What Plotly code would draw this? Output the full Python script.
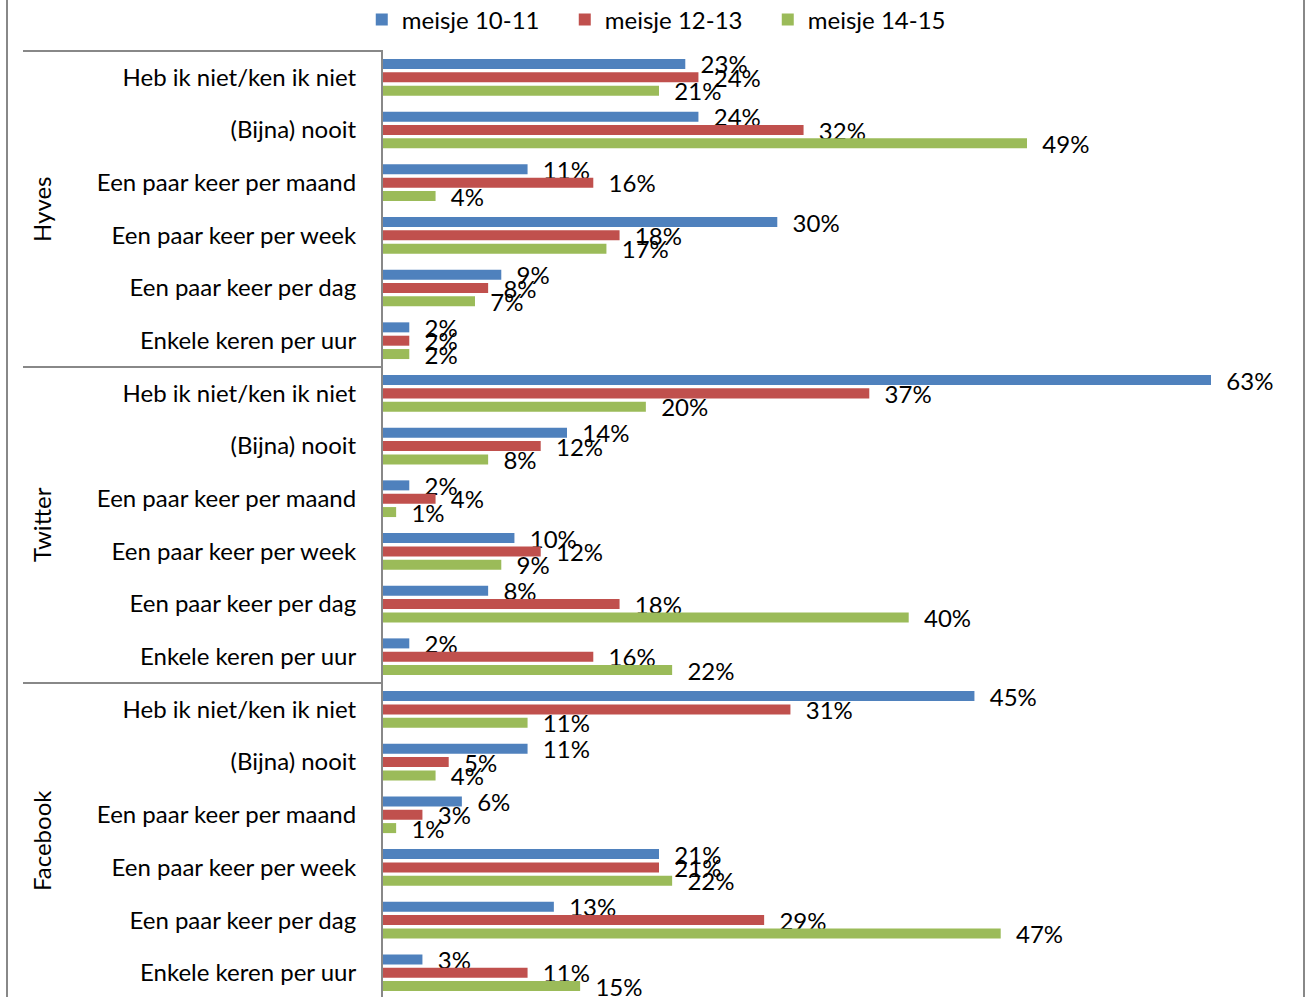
import plotly.graph_objects as go

groups = ["Hyves", "Twitter", "Facebook"]
frequencies = ["Heb ik niet/ken ik niet", "(Bijna) nooit", "Een paar keer per maand",
               "Een paar keer per week", "Een paar keer per dag", "Enkele keren per uur"]
series_names = ["meisje 10-11", "meisje 12-13", "meisje 14-15"]

# values in %, order: Hyves(6), Twitter(6), Facebook(6)
meisje_10_11 = [23, 24, 11, 30, 9, 2,
                63, 14, 2, 10, 8, 2,
                45, 11, 6, 21, 13, 3]
meisje_12_13 = [24, 32, 16, 18, 8, 2,
                37, 12, 4, 12, 18, 16,
                31, 5, 3, 21, 29, 11]
meisje_14_15 = [21, 49, 4, 17, 7, 2,
                20, 8, 1, 9, 40, 22,
                11, 4, 1, 22, 47, 15]

colors = ["#4F81BD", "#C0504D", "#9BBB59"]
FONT = "Lato"
FS = 24
GRAY = "#888888"

categories = [f for g in groups for f in frequencies]
positions = list(range(len(categories)))

fig = go.Figure()
for name, vals, col in zip(series_names, [meisje_10_11, meisje_12_13, meisje_14_15], colors):
    fig.add_trace(go.Bar(
        y=positions, x=[v / 100 for v in vals], orientation="h", name=name,
        marker=dict(color=col, line=dict(width=0)),
        text=["\u00a0\u00a0" + f"{v}%" for v in vals],
        textposition="outside", constraintext="none", cliponaxis=False,
        outsidetextfont=dict(family=FONT, size=FS, color="black"),
    ))

n_per = len(frequencies)
shapes = []
# outer chart border (left/right)
shapes.append(dict(type="line", xref="paper", xsizemode="pixel", xanchor=0, x0=-376, x1=-376,
                   yref="paper", y0=-0.2, y1=1.2, line=dict(color=GRAY, width=2)))
shapes.append(dict(type="line", xref="paper", xsizemode="pixel", xanchor=1, x0=1, x1=1,
                   yref="paper", y0=-0.2, y1=1.2, line=dict(color=GRAY, width=2)))
# group separator lines
shapes.append(dict(type="line", xref="paper", xsizemode="pixel", xanchor=0, x0=-360, x1=0,
                   yref="paper", y0=1, y1=1, line=dict(color=GRAY, width=2)))
for gi in range(1, len(groups)):
    yb = gi * n_per - 0.5
    shapes.append(dict(type="line", xref="paper", xsizemode="pixel", xanchor=0, x0=-360, x1=0,
                       yref="y", y0=yb, y1=yb, line=dict(color=GRAY, width=2)))

annotations = []
for gi, g in enumerate(groups):
    annotations.append(dict(text=g, xref="paper", x=0, xshift=-342, xanchor="center",
                            yref="y", y=gi * n_per + (n_per - 1) / 2, yanchor="middle",
                            textangle=-90, showarrow=False,
                            font=dict(family=FONT, size=FS, color="black")))

fig.update_layout(
    width=1306, height=997,
    margin=dict(l=383, r=3, t=51, b=0),
    paper_bgcolor="white", plot_bgcolor="white",
    barmode="group", bargap=0.24, bargroupgap=0.25,
    font=dict(family=FONT, size=FS, color="black"),
    showlegend=True,
    legend=dict(orientation="h", xref="container", yref="container",
                x=0.277, xanchor="left", y=1 - 20 / 997, yanchor="middle",
                font=dict(family=FONT, size=FS, color="black"),
                entrywidth=158, traceorder="normal"),
    xaxis=dict(range=[0, 0.70], visible=False, showgrid=False, zeroline=False),
    yaxis=dict(tickmode="array", tickvals=positions, ticktext=categories,
               range=[17.46, -0.5], showgrid=False, zeroline=False,
               showline=True, linecolor=GRAY, linewidth=2, ticks="",
               ticklabelstandoff=20, tickfont=dict(family=FONT, size=FS, color="black")),
    shapes=shapes, annotations=annotations,
)

fig.write_html("out.html", config={"displayModeBar": False},
               post_script="document.body.style.margin='0px';document.body.style.overflow='hidden';")
